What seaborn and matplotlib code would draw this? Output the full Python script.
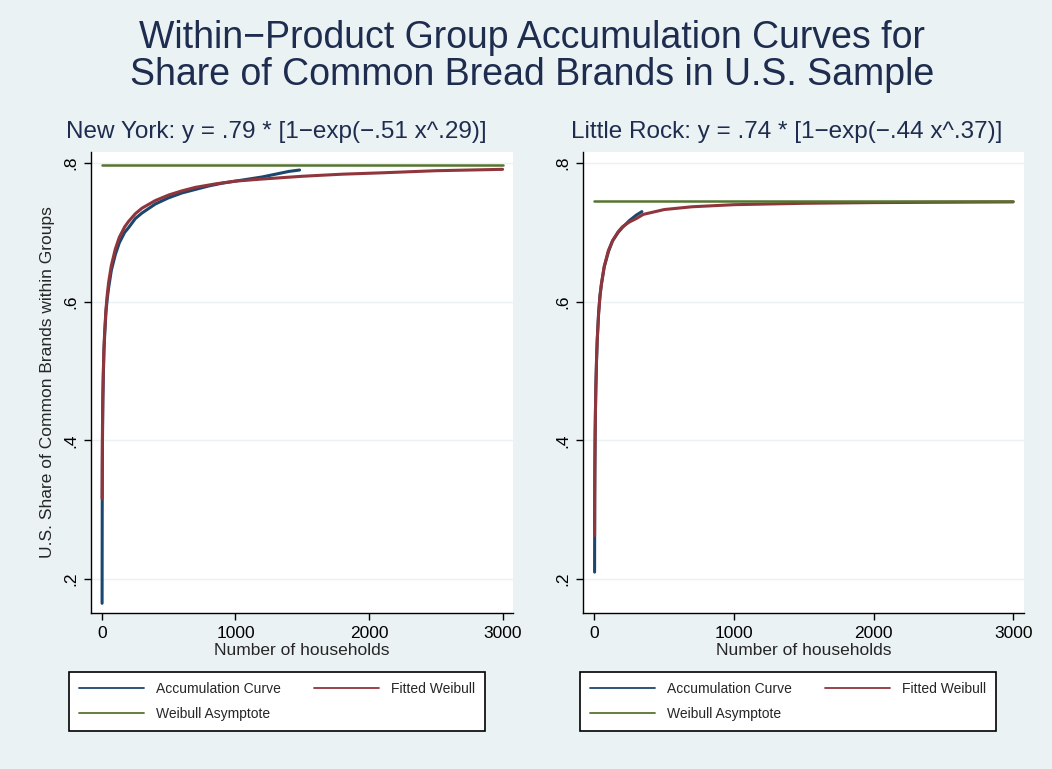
import matplotlib
matplotlib.use("Agg")
import matplotlib.pyplot as plt
import seaborn as sns
import pandas as pd

# values
ny_acc_x = [1, 2, 3, 4, 5, 7, 10, 15, 20, 30, 40, 50, 70, 100, 130, 170, 200, 250, 300,
            400, 500, 600, 700, 800, 900, 1000, 1100, 1200, 1300, 1400, 1480]
ny_acc_y = [0.165, 0.30, 0.36, 0.40, 0.42, 0.46, 0.49, 0.53, 0.55, 0.585, 0.605, 0.62, 0.645,
            0.668, 0.685, 0.70, 0.707, 0.72, 0.728, 0.741, 0.750, 0.757, 0.762, 0.767, 0.771,
            0.774, 0.777, 0.780, 0.784, 0.788, 0.790]
ny_fit_x = [1, 2, 3, 5, 7, 10, 15, 20, 30, 40, 50, 70, 100, 130, 170, 200, 250, 300, 400,
            500, 600, 700, 850, 1000, 1200, 1500, 1800, 2100, 2500, 3000]
ny_fit_y = [0.316, 0.367, 0.398, 0.440, 0.468, 0.498, 0.532, 0.556, 0.589, 0.611, 0.628,
            0.652, 0.676, 0.693, 0.708, 0.716, 0.727, 0.735, 0.746, 0.754, 0.760, 0.765,
            0.770, 0.774, 0.777, 0.781, 0.784, 0.786, 0.789, 0.791]
ny_asym = 0.797

lr_acc_x = [1, 2, 3, 5, 7, 10, 15, 20, 30, 40, 50, 70, 100, 130, 170, 200, 250, 300, 340]
lr_acc_y = [0.21, 0.32, 0.36, 0.41, 0.44, 0.475, 0.515, 0.545, 0.585, 0.61, 0.625, 0.65,
            0.672, 0.688, 0.700, 0.707, 0.717, 0.725, 0.730]
lr_fit_x = [1, 2, 3, 5, 7, 10, 15, 20, 30, 40, 50, 70, 100, 130, 170, 200, 250, 300, 350,
            500, 700, 1000, 1500, 2000, 3000]
lr_fit_y = [0.263, 0.321, 0.358, 0.407, 0.440, 0.476, 0.517, 0.545, 0.583, 0.608, 0.626,
            0.651, 0.674, 0.688, 0.701, 0.708, 0.715, 0.720, 0.726, 0.733, 0.737, 0.740,
            0.742, 0.743, 0.744]
lr_asym = 0.745

title_lines = ["Within\u2212Product Group Accumulation Curves for",
               "Share of Common Bread Brands in U.S. Sample"]
panel_titles = ["New York: y = .79 * [1\u2212exp(\u2212.51 x^.29)]",
                "Little Rock: y = .74 * [1\u2212exp(\u2212.44 x^.37)]"]
x_ticks = [0, 1000, 2000, 3000]
y_ticks = [0.2, 0.4, 0.6, 0.8]
y_ticklabels = [".2", ".4", ".6", ".8"]
asym_x = [0, 3000]

BG = "#EAF2F3"
NAVY = "#1A476F"
MAROON = "#90353B"
GREEN = "#55752F"
TITLE = "#1E2D4F"

sns.set_style("white")
plt.rcParams["font.family"] = ["Liberation Sans", "DejaVu Sans"]

W, H = 1052, 769
fig = plt.figure(figsize=(W / 100, H / 100), dpi=100, facecolor=BG)

axes_pos = [
    [91 / W, 1 - 613 / H, (513 - 91) / W, (613 - 152) / H],
    [583 / W, 1 - 613 / H, (1024 - 583) / W, (613 - 152) / H],
]
legend_anchor = [(69 / W, 1 - 672 / H), (580 / W, 1 - 672 / H)]
subtitle_x = [276 / W, 787 / W]
panels = [
    (ny_acc_x, ny_acc_y, ny_fit_x, ny_fit_y, ny_asym),
    (lr_acc_x, lr_acc_y, lr_fit_x, lr_fit_y, lr_asym),
]

for i, (ax_x, ax_y, fx, fy, asym) in enumerate(panels):
    ax = fig.add_axes(axes_pos[i])
    ax.set_facecolor("white")
    for yt in y_ticks:
        ax.axhline(yt, color=BG, lw=1, zorder=0)
    acc = pd.DataFrame({"x": ax_x, "y": ax_y})
    fit = pd.DataFrame({"x": fx, "y": fy})
    asy = pd.DataFrame({"x": asym_x, "y": [asym, asym]})
    sns.lineplot(data=acc, x="x", y="y", ax=ax, color=NAVY, lw=2.2,
                 estimator=None, sort=False, label="Accumulation Curve")
    sns.lineplot(data=fit, x="x", y="y", ax=ax, color=MAROON, lw=2.2,
                 estimator=None, sort=False, label="Fitted Weibull")
    sns.lineplot(data=asy, x="x", y="y", ax=ax, color=GREEN, lw=1.8,
                 estimator=None, sort=False, label="Weibull Asymptote")
    ax.set_xlim(-82, 3078)
    ax.set_ylim(0.151, 0.816)
    ax.set_xticks(x_ticks)
    ax.set_xticklabels([str(t) for t in x_ticks])
    ax.set_yticks(y_ticks)
    ax.set_yticklabels(y_ticklabels, rotation=90, va="center")
    ax.tick_params(axis="both", direction="out", length=5, width=1,
                   labelsize=12.5, colors="black", pad=4, left=True, bottom=True)
    for s in ["top", "right"]:
        ax.spines[s].set_visible(False)
    for s in ["left", "bottom"]:
        ax.spines[s].set_color("black")
        ax.spines[s].set_linewidth(1)
    ax.set_xlabel("Number of households", fontsize=12.5, labelpad=2)
    if i == 0:
        ax.set_ylabel("U.S. Share of Common Brands within Groups", fontsize=12.5, labelpad=6)
    else:
        ax.set_ylabel("")
    fig.text(subtitle_x[i], 1 - 132 / H, panel_titles[i], fontsize=17.5, color=TITLE,
             ha="center", va="center")

    h, l = ax.get_legend_handles_labels()
    ax.get_legend().remove()
    order = [0, 2, 1]
    leg = fig.legend([h[k] for k in order], [l[k] for k in order], ncol=2,
                     loc="upper left", bbox_to_anchor=legend_anchor[i],
                     fontsize=10, frameon=True, fancybox=False, handlelength=4.7,
                     handletextpad=0.85, borderpad=0.72, labelspacing=0.8,
                     columnspacing=2.35, borderaxespad=0)
    for lh in leg.get_lines():
        lh.set_linewidth(1.3)
    leg.get_frame().set_edgecolor("black")
    leg.get_frame().set_linewidth(1.2)
    leg.get_frame().set_facecolor("white")
    leg.get_frame().set_alpha(1)

fig.text(0.506, 1 - 38 / H, title_lines[0], fontsize=27, color=TITLE, ha="center", va="center")
fig.text(0.506, 1 - 75 / H, title_lines[1], fontsize=27, color=TITLE, ha="center", va="center")

fig.savefig("out.png", dpi=100, facecolor=BG)
